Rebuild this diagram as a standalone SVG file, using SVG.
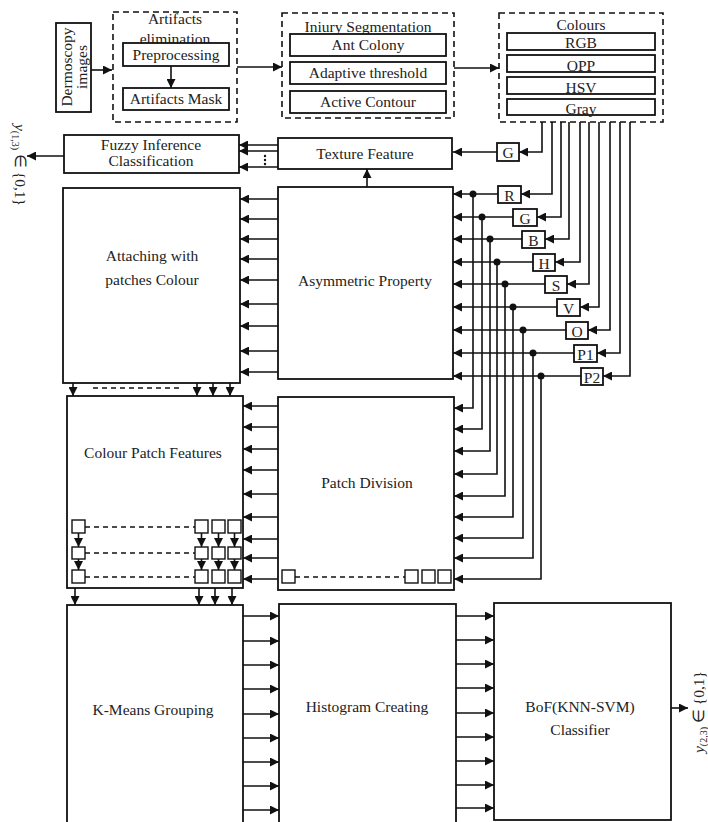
<svg xmlns="http://www.w3.org/2000/svg" width="708" height="822" viewBox="0 0 708 822">
<defs>
<marker id="ah" viewBox="0 0 10 10" refX="10" refY="5" markerWidth="10" markerHeight="9" markerUnits="userSpaceOnUse" orient="auto"><path d="M0,0 L10,5 L0,10 z" fill="#111"/></marker>
<style>
.box{fill:#fff;stroke:#111;stroke-width:1.8}
.sq{fill:#fff;stroke:#111;stroke-width:1.4}
.dash{fill:none;stroke:#111;stroke-width:1.6;stroke-dasharray:6 4}
.dl{fill:none;stroke:#111;stroke-width:1.5;stroke-dasharray:5 4}
.ar{fill:none;stroke:#111;stroke-width:1.6;marker-end:url(#ah)}
.dot{fill:#111}
text{font-family:"Liberation Serif","Times New Roman",serif;font-size:15.5px;fill:#222;text-anchor:middle}
</style>
</defs>
<rect width="708" height="822" fill="#fff"/>

<g id="dermoscopy">
<rect class="box" x="56" y="23" width="35" height="89"/>
<text transform="translate(73,67) rotate(-90)"><tspan x="0" y="-1">Dermoscopy</tspan><tspan x="0" y="14">images</tspan></text>
</g>

<g id="artifacts">
<rect class="dash" x="113" y="12" width="124" height="110"/>
<text x="175" y="24">Artifacts</text>
<text x="175" y="44">elimination</text>
<rect class="box" x="123" y="43" width="106" height="23"/>
<text x="176" y="60">Preprocessing</text>
<rect class="box" x="123" y="88" width="106" height="22"/>
<text x="176" y="104">Artifacts Mask</text>
</g>

<g id="segmentation">
<rect class="dash" x="282" y="13" width="172" height="105"/>
<text x="368" y="32">Iniury Segmentation</text>
<rect class="box" x="290" y="34" width="156" height="22"/>
<text x="368" y="50">Ant Colony</text>
<rect class="box" x="290" y="62" width="156" height="22"/>
<text x="368" y="78">Adaptive threshold</text>
<rect class="box" x="290" y="91" width="156" height="22"/>
<text x="368" y="107">Active Contour</text>
</g>

<g id="colours">
<rect class="dash" x="499" y="13" width="164" height="109"/>
<text x="581" y="30">Colours</text>
<rect class="box" x="507" y="33" width="148" height="17"/>
<text x="581" y="48">RGB</text>
<rect class="box" x="507" y="55" width="148" height="17"/>
<text x="581" y="71">OPP</text>
<rect class="box" x="507" y="77" width="148" height="17"/>
<text x="581" y="93">HSV</text>
<rect class="box" x="507" y="99" width="148" height="16"/>
<text x="581" y="114">Gray</text>
</g>

<g id="fuzzy">
<rect class="box" x="64" y="135" width="175" height="38"/>
<text x="151" y="150">Fuzzy Inference</text>
<text x="151" y="166">Classification</text>
</g>

<g id="texture">
<rect class="box" x="278" y="138" width="174" height="31"/>
<text x="365" y="159">Texture Feature</text>
</g>

<g id="attaching">
<rect class="box" x="63" y="188" width="177" height="195"/>
<text x="152" y="261">Attaching with</text>
<text x="152" y="285">patches Colour</text>
</g>

<g id="asymmetric">
<rect class="box" x="278" y="187" width="175" height="192"/>
<text x="365" y="286">Asymmetric Property</text>
</g>

<g id="colour-patch">
<rect class="box" x="67" y="396" width="176" height="192"/>
<text x="153" y="458">Colour Patch Features</text>
<rect class="sq" x="72" y="520" width="13" height="13"/>
<rect class="sq" x="195" y="520" width="13" height="13"/>
<rect class="sq" x="212" y="520" width="13" height="13"/>
<rect class="sq" x="228" y="520" width="13" height="13"/>
<rect class="sq" x="72" y="547" width="13" height="12"/>
<rect class="sq" x="195" y="547" width="13" height="12"/>
<rect class="sq" x="212" y="547" width="13" height="12"/>
<rect class="sq" x="228" y="547" width="13" height="12"/>
<rect class="sq" x="72" y="570" width="13" height="13"/>
<rect class="sq" x="195" y="570" width="13" height="13"/>
<rect class="sq" x="212" y="570" width="13" height="13"/>
<rect class="sq" x="228" y="570" width="13" height="13"/>
</g>

<g id="patch-division">
<rect class="box" x="278" y="397" width="176" height="193"/>
<text x="367" y="488">Patch Division</text>
<rect class="sq" x="282" y="570" width="13" height="13"/>
<rect class="sq" x="405" y="570" width="13" height="13"/>
<rect class="sq" x="422" y="570" width="13" height="13"/>
<rect class="sq" x="438" y="570" width="13" height="13"/>
</g>

<g id="kmeans">
<rect class="box" x="67" y="605" width="176" height="222"/>
<text x="153" y="715">K-Means Grouping</text>
</g>

<g id="histogram">
<rect class="box" x="279" y="604" width="177" height="223"/>
<text x="367" y="712">Histogram Creating</text>
</g>

<g id="bof">
<rect class="box" x="494" y="603" width="177" height="217"/>
<text x="580" y="712">BoF(KNN-SVM)</text>
<text x="580" y="735">Classifier</text>
</g>

<g id="channel-boxes">
<rect class="box" x="497" y="143" width="22" height="18"/><text x="508" y="158">G</text>
<rect class="box" x="498" y="186" width="23" height="17"/><text x="509.5" y="201">R</text>
<rect class="box" x="513" y="209" width="24" height="17"/><text x="525" y="224">G</text>
<rect class="box" x="522" y="231" width="23" height="17"/><text x="533.5" y="246">B</text>
<rect class="box" x="533" y="254" width="22" height="17"/><text x="544" y="269">H</text>
<rect class="box" x="545" y="276" width="22" height="17"/><text x="556" y="291">S</text>
<rect class="box" x="557" y="299" width="23" height="17"/><text x="568.5" y="314">V</text>
<rect class="box" x="566" y="322" width="22" height="17"/><text x="577" y="337">O</text>
<rect class="box" x="574" y="345" width="23" height="17"/><text x="585.5" y="360">P1</text>
<rect class="box" x="581" y="368" width="22" height="17"/><text x="592" y="383">P2</text>
</g>

<g id="outputs">
<text transform="translate(15,165) rotate(90)"><tspan font-style="italic">y</tspan><tspan font-size="10" dy="3">(1,3)</tspan><tspan dy="-3"> ∈ {0,1}</tspan></text>
<text transform="translate(704,712) rotate(-90)"><tspan font-style="italic">y</tspan><tspan font-size="10" dy="3">(2,3)</tspan><tspan dy="-3"> ∈ {0,1}</tspan></text>
</g>

<g id="connectors">
<path class="ar" d="M91,70 H112"/>
<path class="ar" d="M171,66 V88"/>
<path class="ar" d="M237,67 H282"/>
<path class="ar" d="M454,68 H499"/>
<path class="ar" d="M542,122 V152 H519"/>
<path class="ar" d="M497,152 H453"/>
<path class="ar" d="M552,122 V194 H521"/>
<path class="ar" d="M561,122 V217 H537"/>
<path class="ar" d="M569,122 V239 H545"/>
<path class="ar" d="M580,122 V262 H555"/>
<path class="ar" d="M589,122 V284 H567"/>
<path class="ar" d="M599,122 V307 H580"/>
<path class="ar" d="M610,122 V330 H588"/>
<path class="ar" d="M620,122 V353 H597"/>
<path class="ar" d="M630,122 V376 H603"/>
<path class="ar" d="M498,194 H453"/>
<path class="ar" d="M513,217 H453"/>
<path class="ar" d="M522,239 H453"/>
<path class="ar" d="M533,262 H453"/>
<path class="ar" d="M545,284 H453"/>
<path class="ar" d="M557,307 H453"/>
<path class="ar" d="M566,330 H453"/>
<path class="ar" d="M574,353 H453"/>
<path class="ar" d="M581,376 H453"/>
<path class="ar" d="M473,194 V408 H454"/>
<path class="ar" d="M482,217 V429 H454"/>
<path class="ar" d="M490,239 V451 H454"/>
<path class="ar" d="M497,262 V474 H454"/>
<path class="ar" d="M505,284 V496 H454"/>
<path class="ar" d="M513,307 V517 H454"/>
<path class="ar" d="M523,330 V538 H454"/>
<path class="ar" d="M533,353 V558 H454"/>
<path class="ar" d="M541,376 V579 H454"/>
<circle class="dot" cx="473" cy="194" r="3.5"/>
<circle class="dot" cx="482" cy="217" r="3.5"/>
<circle class="dot" cx="490" cy="239" r="3.5"/>
<circle class="dot" cx="497" cy="262" r="3.5"/>
<circle class="dot" cx="505" cy="284" r="3.5"/>
<circle class="dot" cx="513" cy="307" r="3.5"/>
<circle class="dot" cx="523" cy="330" r="3.5"/>
<circle class="dot" cx="533" cy="353" r="3.5"/>
<circle class="dot" cx="541" cy="376" r="3.5"/>
<path class="ar" d="M367,187 V169"/>
<path class="ar" d="M278,145 H239"/>
<path class="ar" d="M278,151 H239"/>
<path class="ar" d="M278,167 H239"/>
<circle class="dot" cx="265" cy="156" r="1.2"/>
<circle class="dot" cx="265" cy="160" r="1.2"/>
<circle class="dot" cx="265" cy="164" r="1.2"/>
<path class="ar" d="M64,156 H27"/>
<path class="ar" d="M278,199 H240"/>
<path class="ar" d="M278,219 H240"/>
<path class="ar" d="M278,239 H240"/>
<path class="ar" d="M278,259 H240"/>
<path class="ar" d="M278,280 H240"/>
<path class="ar" d="M278,304 H240"/>
<path class="ar" d="M278,326 H240"/>
<path class="ar" d="M278,351 H240"/>
<path class="ar" d="M278,372 H240"/>
<path class="ar" d="M73,383 V396"/>
<path class="ar" d="M197,383 V396"/>
<path class="ar" d="M213,383 V396"/>
<path class="ar" d="M230,383 V396"/>
<path class="dl" d="M93,388 H182"/>
<path class="ar" d="M278,406 H243"/>
<path class="ar" d="M278,427 H243"/>
<path class="ar" d="M278,449 H243"/>
<path class="ar" d="M278,470 H243"/>
<path class="ar" d="M278,494 H243"/>
<path class="ar" d="M278,517 H243"/>
<path class="ar" d="M278,539 H243"/>
<path class="ar" d="M278,558 H243"/>
<path class="ar" d="M278,579 H243"/>
<path class="dl" d="M85,527 H195"/>
<path class="dl" d="M85,553 H195"/>
<path class="dl" d="M85,577 H195"/>
<path class="dl" d="M295,577 H405"/>
<path class="ar" d="M78.5,533 V547"/>
<path class="ar" d="M201.5,533 V547"/>
<path class="ar" d="M218.5,533 V547"/>
<path class="ar" d="M234.5,533 V547"/>
<path class="ar" d="M78.5,559 V570"/>
<path class="ar" d="M201.5,559 V570"/>
<path class="ar" d="M218.5,559 V570"/>
<path class="ar" d="M234.5,559 V570"/>
<path class="ar" d="M75,588 V605"/>
<path class="ar" d="M199,588 V605"/>
<path class="ar" d="M215,588 V605"/>
<path class="ar" d="M232,588 V605"/>
<path class="ar" d="M243,616 H279"/>
<path class="ar" d="M243,641 H279"/>
<path class="ar" d="M243,665 H279"/>
<path class="ar" d="M243,689 H279"/>
<path class="ar" d="M243,714 H279"/>
<path class="ar" d="M243,738 H279"/>
<path class="ar" d="M243,762 H279"/>
<path class="ar" d="M243,786 H279"/>
<path class="ar" d="M243,810 H279"/>
<path class="ar" d="M456,616 H494"/>
<path class="ar" d="M456,640 H494"/>
<path class="ar" d="M456,664 H494"/>
<path class="ar" d="M456,688 H494"/>
<path class="ar" d="M456,713 H494"/>
<path class="ar" d="M456,737 H494"/>
<path class="ar" d="M456,761 H494"/>
<path class="ar" d="M456,785 H494"/>
<path class="ar" d="M456,808 H494"/>
<path class="ar" d="M671,708 H688"/>
</g>
</svg>
